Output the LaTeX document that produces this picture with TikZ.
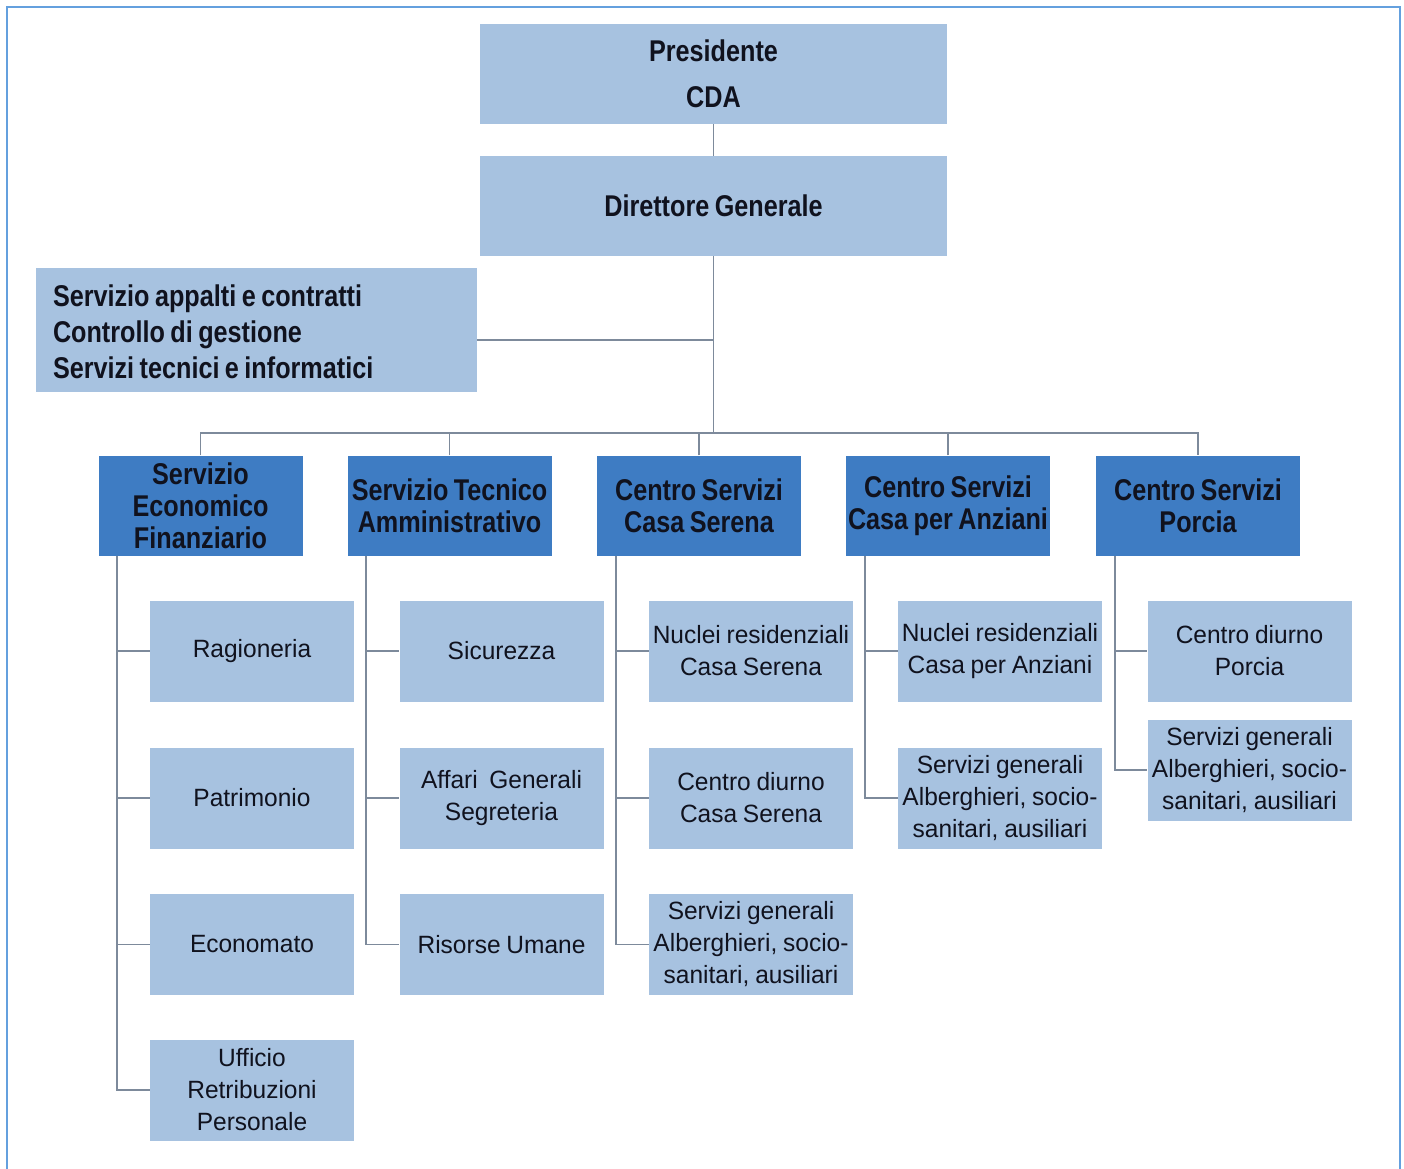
\documentclass[tikz,border=0pt]{standalone}
\usepackage{fontspec}
\setmainfont{Liberation Sans}
\newfontfamily\hdfont{Liberation Sans}[FakeStretch=0.84,WordSpace=0.78]
\newfontfamily\bdfont{Liberation Sans}[FakeStretch=0.98,WordSpace=0.85]
\definecolor{lightbox}{RGB}{167,194,224}
\definecolor{darkbox}{RGB}{62,124,195}
\definecolor{linec}{RGB}{125,138,155}
\definecolor{framec}{RGB}{100,160,222}
\definecolor{textc}{RGB}{16,18,30}
\begin{document}
\begin{tikzpicture}[x=1pt,y=-1pt,
  box/.style={fill=lightbox, inner sep=0pt, align=center, text=textc},
  hd/.style={box, font=\hdfont\bfseries\fontsize{30}{32}\selectfont},
  lvtwo/.style={hd, fill=darkbox, minimum width=204pt, minimum height=100pt},
  sub/.style={box, font=\bdfont\fontsize{25}{32}\selectfont, minimum width=204pt, minimum height=101pt},
  conn/.style={draw=linec, line width=1.8pt}]
\useasboundingbox (0,0) rectangle (1404,1168);
\fill[white] (0,0) rectangle (1404,1168);
\draw[framec, line width=2.5pt] (7,1170) -- (7,7) -- (1400,7) -- (1400,1170);

% top
\node[hd, minimum width=467pt, minimum height=100pt] (pres) at (713.5,74) {Presidente\\[14pt]CDA};
\node[hd, minimum width=467pt, minimum height=100pt] (dg) at (713.5,206) {Direttore Generale};
\node[box, minimum width=441pt, minimum height=124pt] (svc) at (256.5,330) {};
\node[anchor=west, align=left, inner sep=0pt, text=textc,
      font=\hdfont\bfseries\fontsize{30}{36}\selectfont] (svctext) at ([xshift=17pt,yshift=-2pt]svc.west)
  {Servizio appalti e contratti\\Controllo di gestione\\Servizi tecnici e informatici};

% level 2
\node[lvtwo] (sef) at (200.5,505.5) {Servizio\\Economico\\Finanziario};
\node[lvtwo] (sta) at (449.5,505.5) {Servizio Tecnico\\Amministrativo};
\node[lvtwo] (cscs) at (699,505.5) {Centro Servizi\\Casa Serena};
\node[lvtwo] (csca) at (948,505.5) {Centro Servizi\\Casa per Anziani};
\node[lvtwo] (csp) at (1198,505.5) {Centro Servizi\\Porcia};

% children SEF
\node[sub] (rag) at (252,651) {Ragioneria};
\node[sub] (pat) at (252,798) {Patrimonio};
\node[sub] (eco) at (252,944.5) {Economato};
\node[sub] (uff) at (252,1090) {Ufficio\\Retribuzioni\\Personale};
% children STA
\node[sub] (sic) at (501.5,651) {Sicurezza};
\node[sub] (aff) at (501.5,798) {Affari\ \ Generali\\Segreteria};
\node[sub] (ris) at (501.5,944.5) {Risorse Umane};
% children CSCS
\node[sub] (nucs) at (751,651) {Nuclei residenziali\\Casa Serena};
\node[sub] (cdcs) at (751,798) {Centro diurno\\Casa Serena};
\node[sub] (sgcs) at (751,944.5) {Servizi generali\\Alberghieri, socio-\\sanitari, ausiliari};
% children CSCA
\node[sub] (nuca) at (1000,651) {Nuclei residenziali\\Casa per Anziani};
\node[sub] (sgca) at (1000,798) {Servizi generali\\Alberghieri, socio-\\sanitari, ausiliari};
% children CSP
\node[sub] (cdp) at (1249.5,651) {Centro diurno\\Porcia};
\node[sub] (sgp) at (1249.5,770) {Servizi generali\\Alberghieri, socio-\\sanitari, ausiliari};

% connectors top
\coordinate (bus) at (713.5,433);
\draw[conn] (pres.south) -- (dg.north);
\draw[conn] (dg.south) -- (bus);
\draw[conn] ([yshift=-10pt]svc.east) -- ([yshift=-10pt]svc.east -| dg.south);
\draw[conn] (sef.north) -- (sef.north |- bus) -| (csp.north);
\draw[conn] (sta.north) -- (sta.north |- bus);
\draw[conn] (cscs.north) -- (cscs.north |- bus);
\draw[conn] (csca.north) -- (csca.north |- bus);

% connectors children
\foreach \p/\c in {sef/rag, sef/pat, sef/eco, sef/uff, sta/sic, sta/aff, sta/ris,
                   cscs/nucs, cscs/cdcs, cscs/sgcs, csca/nuca, csca/sgca, csp/cdp, csp/sgp}
  \draw[conn] ([xshift=19pt]\p.south west) |- (\c.west);
\end{tikzpicture}
\end{document}
